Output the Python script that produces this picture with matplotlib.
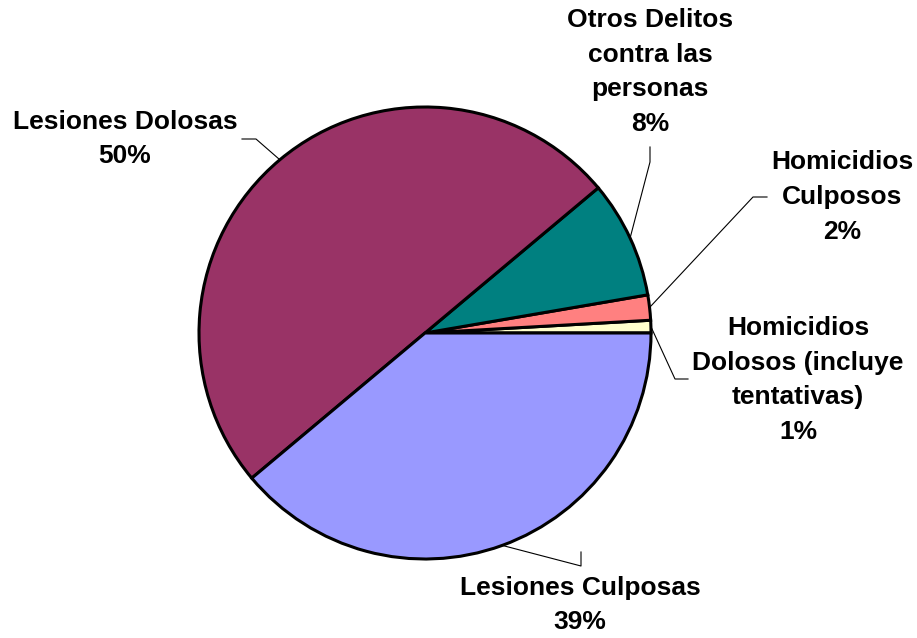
import numpy as np
import matplotlib.pyplot as plt

labels = ["Homicidios\nDolosos (incluye\ntentativas)", "Homicidios\nCulposos",
          "Otros Delitos\ncontra las\npersonas", "Lesiones Dolosas", "Lesiones Culposas"]
values = [0.9, 1.8, 8.4, 50.0, 38.9]
pct_text = ["1%", "2%", "8%", "50%", "39%"]
colors = ["#FFFFCC", "#FF8080", "#008080", "#993366", "#9999FF"]

# label centre (x, y) in pixel coords and the elbow points of the leader
label_pos = [(798, 380), (842, 197), (650, 72), (125, 139), (580, 605)]
elbows = [[(675, 379), (688, 379)], [(753, 197), (767, 197)],
          [(650, 162), (650, 147)], [(256, 139), (242, 139)],
          [(581, 566), (581, 552)]]

plt.rcParams['font.family'] = ['Liberation Sans', 'DejaVu Sans']
fig = plt.figure(figsize=(9.17, 6.38), dpi=100)
ax = fig.add_axes([0, 0, 1, 1])

cx, cy, r = 425, 333, 226
wedges, _ = ax.pie(values, colors=colors, center=(cx, cy), radius=r,
                   startangle=0, counterclock=False,
                   wedgeprops=dict(edgecolor='black', linewidth=2.2))
ax.set_xlim(0, 917)
ax.set_ylim(638, 0)
ax.set_aspect('equal')
ax.axis('off')

for w, lab, pct, (lx, ly), elb in zip(wedges, labels, pct_text, label_pos, elbows):
    mid = np.deg2rad((w.theta1 + w.theta2) / 2)
    ex = cx + r * np.cos(mid)
    ey = cy + r * np.sin(mid)
    xs = [ex] + [p[0] for p in elb]
    ys = [ey] + [p[1] for p in elb]
    ax.plot(xs, ys, color='black', linewidth=0.8)
    ax.text(lx, ly, lab + "\n" + pct, ha='center', va='center',
            fontsize=19, fontweight='bold', linespacing=1.56)

fig.savefig("out.png", dpi=100)
